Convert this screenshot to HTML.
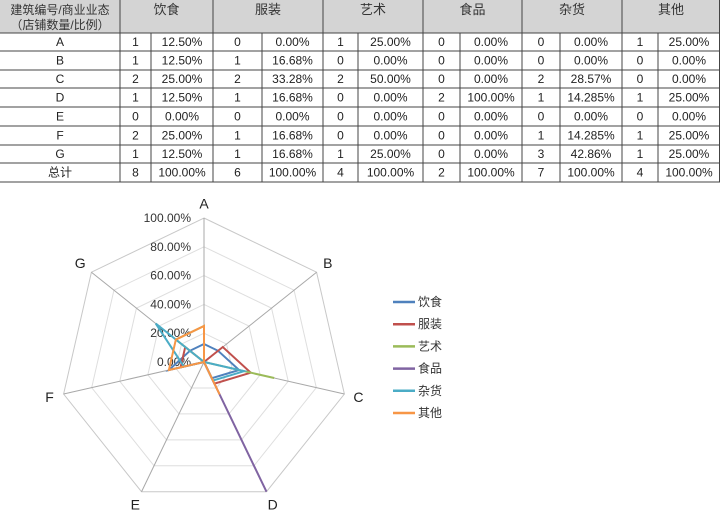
<!DOCTYPE html>
<html><head><meta charset="utf-8"><style>
body{margin:0;width:720px;height:510px;background:#fff;overflow:hidden;font-family:"Liberation Sans","Noto Sans CJK SC",sans-serif}
#tbl{position:absolute;left:0;top:0;width:720px;height:183px}
</style></head><body>
<svg id="tbl" width="720" height="183"></svg>
<svg id="chart" width="720" height="327" style="position:absolute;left:0;top:183px"></svg>
<script>
const rowLabels=["A","B","C","D","E","F","G","总计"];
const groups=["饮食","服装","艺术","食品","杂货","其他"];
const counts=[[1,0,1,0,0,1],[1,1,0,0,0,0],[2,2,2,0,2,0],[1,1,0,2,1,1],[0,0,0,0,0,0],[2,1,0,0,1,1],[1,1,1,0,3,1],[8,6,4,2,7,4]];
const pcts=[["12.50%","0.00%","25.00%","0.00%","0.00%","25.00%"],["12.50%","16.68%","0.00%","0.00%","0.00%","0.00%"],["25.00%","33.28%","50.00%","0.00%","28.57%","0.00%"],["12.50%","16.68%","0.00%","100.00%","14.285%","25.00%"],["0.00%","0.00%","0.00%","0.00%","0.00%","0.00%"],["25.00%","16.68%","0.00%","0.00%","14.285%","25.00%"],["12.50%","16.68%","25.00%","0.00%","42.86%","25.00%"],["100.00%","100.00%","100.00%","100.00%","100.00%","100.00%"]];
const categories=["A","B","C","D","E","F","G"];
const seriesNames=["饮食","服装","艺术","食品","杂货","其他"];
const s0=[12.5,12.5,25,12.5,0,25,12.5];
const s1=[0,16.68,33.28,16.68,0,16.68,16.68];
const s2=[25,0,50,0,0,0,25];
const s3=[0,0,0,100,0,0,0];
const s4=[0,0,28.57,14.285,0,14.285,42.86];
const s5=[25,0,0,25,0,25,25];
const tickLabels=["0.00%","20.00%","40.00%","60.00%","80.00%","100.00%"];
const tickValues=[0,20,40,60,80,100];
const NS="http://www.w3.org/2000/svg";
function mk(p,t,a,txt){const e=document.createElementNS(NS,t);for(const k in a)e.setAttribute(k,a[k]);if(txt!==undefined)e.textContent=txt;p.appendChild(e);return e;}
// table
const T=document.getElementById('tbl');
const colB=[0,120,151,213,262,323,358,423,460,522,560,622,658,720];
const rowB=[0,33,51,70,88,107,126,145,163,182];
let h=mk(T,'rect',{x:0,y:0,width:720,height:33,fill:'#d4d4d4'});

let t1=mk(T,'text',{x:60,y:14,'text-anchor':'middle','font-size':12,fill:'#333'},"建筑编号/商业业态");

mk(T,'text',{x:60,y:29,'text-anchor':'middle','font-size':12,fill:'#333'},"（店铺数量/比例）");
groups.forEach((g,i)=>{const x0=colB[1+2*i],x1=colB[3+2*i];
 let e=mk(T,'text',{x:(x0+x1)/2,y:14,'text-anchor':'middle','font-size':13,fill:'#333'},g);
 
 mk(T,'line',{x1:x0,y1:0,x2:x0,y2:182,stroke:'#444','stroke-width':1});});
for(let r=0;r<8;r++){const y0=rowB[r+1],y1=rowB[r+2],cy=(y0+y1)/2+4;
 mk(T,'line',{x1:0,y1:y0,x2:720,y2:y0,stroke:'#444','stroke-width':1});
 let e=mk(T,'text',{x:60,y:cy,'text-anchor':'middle','font-size':12,fill:'#222'},rowLabels[r]);
 
 for(let g=0;g<6;g++){
  let c=mk(T,'text',{x:(colB[1+2*g]+colB[2+2*g])/2,y:cy,'text-anchor':'middle','font-size':12,fill:'#222'},counts[r][g]);
  
  let p=mk(T,'text',{x:(colB[2+2*g]+colB[3+2*g])/2,y:cy,'text-anchor':'middle','font-size':12,fill:'#222'},pcts[r][g]);
  
  mk(T,'line',{x1:colB[2+2*g],y1:rowB[1],x2:colB[2+2*g],y2:182,stroke:'#444','stroke-width':1});
 }}
mk(T,'line',{x1:0,y1:182,x2:720,y2:182,stroke:'#444','stroke-width':1});
mk(T,'line',{x1:719.5,y1:0,x2:719.5,y2:182,stroke:'#444','stroke-width':1});
// radar
const C=document.getElementById('chart');
const cx=204,cy=362-183,R=144,N=categories.length;
function pt(i,v){const a=2*Math.PI*i/N;const r=R*v/100;return [cx+r*Math.sin(a),cy-r*Math.cos(a)];}
tickValues.forEach(v=>{if(v===0)return;const ps=categories.map((_,i)=>pt(i,v).join(',')).join(' ');
 let g=mk(C,'polygon',{points:ps,fill:'none',stroke:v===100?'#c8c8c8':'#dedede','stroke-width':1});
 });
categories.forEach((c,i)=>{const [x,y]=pt(i,100);
 let l=mk(C,'line',{x1:cx,y1:cy,x2:x,y2:y,stroke:'#a8a8a8','stroke-width':1});
 
 const [lx,ly]=pt(i,110);
 let t=mk(C,'text',{x:lx,y:ly+5,'text-anchor':'middle','font-size':14,fill:'#222'},c);
 });
tickValues.forEach((v,k)=>{const [x,y]=pt(0,v);
 let t=mk(C,'text',{x:x-13,y:y+4,'text-anchor':'end','font-size':12,fill:'#333'},tickLabels[k]);
 });
const series=[s0,s1,s2,s3,s4,s5];
const colors=['#4f81bd','#c0504d','#9bbb59','#8064a2','#4bacc6','#f79646'];
series.forEach((s,k)=>{const ps=s.map((v,i)=>pt(i,v).join(',')).join(' ');
 let p=mk(C,'polygon',{points:ps,fill:'none',stroke:colors[k],'stroke-width':2});
 });
seriesNames.forEach((n,k)=>{const y=302-183+k*22.2;
 let g=mk(C,'g',{});
 mk(g,'line',{x1:393,y1:y,x2:415,y2:y,stroke:colors[k],'stroke-width':2.5});
 mk(g,'text',{x:418,y:y+4,'font-size':12,fill:'#333'},n);});
</script>
</body></html>
